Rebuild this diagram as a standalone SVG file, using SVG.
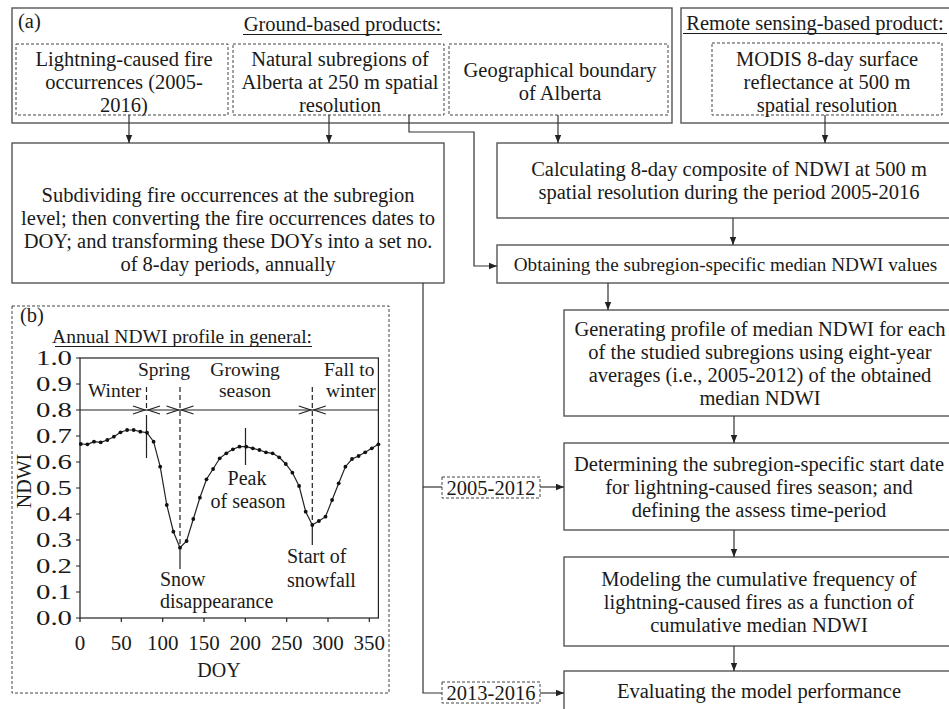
<svg xmlns="http://www.w3.org/2000/svg" width="949" height="709" viewBox="0 0 949 709">
<defs>
<style>
.t{font-family:"Liberation Serif","Times New Roman",serif;font-size:20.5px;fill:#1a1a1a;text-anchor:middle}
.s{text-anchor:start}
.e{text-anchor:end}
.p{font-size:19.5px}
.box{fill:#fff;stroke:#555;stroke-width:1.4}
.dbox{fill:none;stroke:#444;stroke-width:1;stroke-dasharray:3 2}
.conn{fill:none;stroke:#333;stroke-width:1.2}
.ul{stroke:#1a1a1a;stroke-width:1}
.ax{fill:none;stroke:#222;stroke-width:1.2}
.dl{fill:none;stroke:#222;stroke-width:1.2;stroke-dasharray:5 3}
.pt{fill:#111}
</style>
<marker id="ah" viewBox="0 0 8 8" refX="8" refY="4" markerWidth="8" markerHeight="8" markerUnits="userSpaceOnUse" orient="auto">
<path d="M0,0.8 L8,4 L0,7.2 Z" fill="#222"/>
</marker>
</defs>
<rect width="949" height="709" fill="#fff"/>

<g id="groundProducts">
<rect class="box" x="12" y="8" width="660" height="115"/>
<text class="t s" x="18" y="28">(a)</text>
<text class="t" x="342.5" y="31">Ground-based products:</text>
<line class="ul" x1="243" y1="34.5" x2="442" y2="34.5"/>
</g>
<g id="lightning">
<rect class="dbox" x="16" y="44" width="212" height="71"/>
<text class="t" x="124" y="66">Lightning-caused fire</text>
<text class="t" x="124" y="89">occurrences (2005-</text>
<text class="t" x="124" y="112">2016)</text>
</g>
<g id="subregions">
<rect class="dbox" x="233" y="44" width="211" height="71"/>
<text class="t" x="340" y="66">Natural subregions of</text>
<text class="t" x="340" y="89">Alberta at 250 m spatial</text>
<text class="t" x="340" y="112">resolution</text>
</g>
<g id="boundary">
<rect class="dbox" x="449" y="44" width="219" height="71"/>
<text class="t" x="560" y="77">Geographical boundary</text>
<text class="t" x="560" y="100">of Alberta</text>
</g>
<g id="remoteProduct">
<rect class="box" x="681" y="8" width="272" height="115"/>
<text class="t" x="815" y="30">Remote sensing-based product:</text>
<line class="ul" x1="683" y1="33.5" x2="947" y2="33.5"/>
</g>
<g id="modis">
<rect class="dbox" x="712" y="43" width="230" height="72"/>
<text class="t" x="827" y="66">MODIS 8-day surface</text>
<text class="t" x="827" y="89">reflectance at 500 m</text>
<text class="t" x="827" y="112">spatial resolution</text>
</g>

<g id="subdividing">
<rect class="box" x="12" y="143" width="432" height="140"/>
<text class="t" x="228" y="202">Subdividing fire occurrences at the subregion</text>
<text class="t" x="228" y="225">level; then converting the fire occurrences dates to</text>
<text class="t" x="228" y="248">DOY; and transforming these DOYs into a set no.</text>
<text class="t" x="228" y="271">of 8-day periods, annually</text>
</g>
<g id="calculating">
<rect class="box" x="497" y="143" width="460" height="75"/>
<text class="t" x="729" y="176">Calculating 8-day composite of NDWI at 500 m</text>
<text class="t" x="729" y="199">spatial resolution during the period 2005-2016</text>
</g>
<g id="obtaining">
<rect class="box" x="497" y="245" width="460" height="38"/>
<text class="t" x="725.5" y="271" style="font-size:19.2px">Obtaining the subregion-specific median NDWI values</text>
</g>
<g id="generating">
<rect class="box" x="564" y="310" width="392" height="106"/>
<text class="t" x="760" y="336">Generating profile of median NDWI for each</text>
<text class="t" x="760" y="359">of the studied subregions using eight-year</text>
<text class="t" x="760" y="382">averages (i.e., 2005-2012) of the obtained</text>
<text class="t" x="760" y="405">median NDWI</text>
</g>
<g id="determining">
<rect class="box" x="564" y="443" width="392" height="87"/>
<text class="t" x="759" y="471">Determining the subregion-specific start date</text>
<text class="t" x="759" y="494">for lightning-caused fires season; and</text>
<text class="t" x="759" y="517">defining the assess time-period</text>
</g>
<g id="modeling">
<rect class="box" x="564" y="557" width="392" height="89"/>
<text class="t" x="759" y="586">Modeling the cumulative frequency of</text>
<text class="t" x="759" y="609">lightning-caused fires as a function of</text>
<text class="t" x="759" y="632">cumulative median NDWI</text>
</g>
<g id="evaluating">
<rect class="box" x="564" y="671" width="392" height="45"/>
<text class="t" x="759" y="698">Evaluating the model performance</text>
</g>
<g id="period1">
<rect class="dbox" x="442" y="477" width="98" height="21"/>
<text class="t" x="491" y="495">2005-2012</text>
</g>
<g id="period2">
<rect class="dbox" x="442" y="682" width="98" height="21"/>
<text class="t" x="491" y="700">2013-2016</text>
</g>

<g id="connectors">
<line class="conn" x1="129" y1="115" x2="129" y2="143" marker-end="url(#ah)"/>
<line class="conn" x1="329" y1="115" x2="329" y2="143" marker-end="url(#ah)"/>
<path class="conn" d="M409,115 V132 H474 V266 H497" marker-end="url(#ah)"/>
<line class="conn" x1="558" y1="115" x2="558" y2="143" marker-end="url(#ah)"/>
<line class="conn" x1="825" y1="115" x2="825" y2="143" marker-end="url(#ah)"/>
<line class="conn" x1="733" y1="218" x2="733" y2="245" marker-end="url(#ah)"/>
<line class="conn" x1="608" y1="283" x2="608" y2="310" marker-end="url(#ah)"/>
<line class="conn" x1="734" y1="416" x2="734" y2="443" marker-end="url(#ah)"/>
<line class="conn" x1="734" y1="530" x2="734" y2="557" marker-end="url(#ah)"/>
<line class="conn" x1="734" y1="646" x2="734" y2="671" marker-end="url(#ah)"/>
<path class="conn" d="M423,283 V693 H442"/>
<line class="conn" x1="423" y1="487" x2="442" y2="487"/>
<line class="conn" x1="540" y1="487" x2="564" y2="487" marker-end="url(#ah)"/>
<line class="conn" x1="540" y1="693" x2="564" y2="693" marker-end="url(#ah)"/>
</g>

<g id="panelB">
<rect class="dbox" x="12" y="306" width="377" height="387"/>
<text class="t s" x="20" y="322">(b)</text>
<text class="t e p" x="312" y="343">Annual NDWI profile in general:</text>
<line class="ul" x1="55" y1="346.5" x2="312" y2="346.5"/>
<rect class="ax" x="80" y="358" width="298.4" height="260"/>
<path class="ax" d="M76,618H80M76,592H80M76,566H80M76,540H80M76,514H80M76,488H80M76,462H80M76,436H80M76,410H80M76,384H80M76,358H80"/>
<path class="ax" d="M80,618V622M121.3,618V622M162.7,618V622M204,618V622M245.3,618V622M286.7,618V622M328,618V622M369.3,618V622"/>
<g class="t e" style="font-size:21px">
<text x="72" y="625" textLength="36" lengthAdjust="spacingAndGlyphs">0.0</text><text x="72" y="599" textLength="36" lengthAdjust="spacingAndGlyphs">0.1</text><text x="72" y="573" textLength="36" lengthAdjust="spacingAndGlyphs">0.2</text><text x="72" y="547" textLength="36" lengthAdjust="spacingAndGlyphs">0.3</text><text x="72" y="521" textLength="36" lengthAdjust="spacingAndGlyphs">0.4</text><text x="72" y="495" textLength="36" lengthAdjust="spacingAndGlyphs">0.5</text><text x="72" y="469" textLength="36" lengthAdjust="spacingAndGlyphs">0.6</text><text x="72" y="443" textLength="36" lengthAdjust="spacingAndGlyphs">0.7</text><text x="72" y="417" textLength="36" lengthAdjust="spacingAndGlyphs">0.8</text><text x="72" y="391" textLength="36" lengthAdjust="spacingAndGlyphs">0.9</text><text x="72" y="365" textLength="36" lengthAdjust="spacingAndGlyphs">1.0</text>
</g>
<g class="t" style="font-size:21px">
<text x="80" y="650">0</text><text x="121.3" y="650">50</text><text x="162.7" y="650">100</text><text x="204" y="650">150</text><text x="245.3" y="650">200</text><text x="286.7" y="650">250</text><text x="328" y="650">300</text><text x="369.3" y="650">350</text>
</g>
<text class="t" x="219" y="677" style="font-size:20px">DOY</text>
<text class="t" x="0" y="0" style="font-size:20px" transform="translate(31,481) rotate(-90)">NDWI</text>

<line class="ax" x1="80" y1="410" x2="378.4" y2="410"/>
<path class="ax" d="M133,406L145,410L133,414M160,406L148,410L160,414M166.5,406L178.5,410L166.5,414M193.5,406L181.5,410L193.5,414M298.8,406L310.8,410L298.8,414M325.8,406L313.8,410L325.8,414"/>
<line class="dl" x1="146.5" y1="387" x2="146.5" y2="410"/>
<line class="dl" x1="180" y1="387" x2="180" y2="547"/>
<line class="dl" x1="312.3" y1="387" x2="312.3" y2="524"/>
<path class="ax" d="M146.5,415V458M180,547V569M312.3,524V545M245.5,428V465"/>

<g class="t p">
<text class="s" x="88" y="397">Winter</text>
<text class="s" x="138" y="376">Spring</text>
<text x="245" y="376">Growing</text>
<text x="245" y="397">season</text>
<text class="s" x="324" y="376">Fall to</text>
<text class="s" x="326" y="397">winter</text>
</g>
<g class="t" style="font-size:20px">
<text x="247" y="485">Peak</text>
<text x="248" y="508">of season</text>
<text class="s" x="160" y="586">Snow</text>
<text class="s" x="160" y="608">disappearance</text>
<text class="s" x="287" y="563">Start of</text>
<text class="s" x="287" y="587">snowfall</text>
</g>

<polyline class="ax" stroke-width="1.1" points="80.8,444 87.4,444.3 94,441.7 100.7,442.3 107.3,440 113.9,436.7 120.5,432.3 127.1,430 133.7,430 140.3,431.7 147,432.7 153.6,441.7 160.2,466.7 166.8,505 173.4,531.7 180,547.7 186.6,541 193.3,519 199.9,497.7 206.5,479.3 213.1,469 219.7,458.3 226.3,453.3 232.9,449.3 239.5,446.7 246.2,446.7 252.8,448.3 259.4,450 266,452.3 272.6,453.3 279.2,457.3 285.8,464 292.4,472.7 299.1,486 305.7,511.7 312.3,525 318.9,521 325.5,516.7 332.1,500 338.7,483.3 345.4,466.7 352,459 358.6,456 365.2,452.3 371.8,448.3 378.4,444.3"/>
<g class="pt">
<circle cx="80.8" cy="444" r="1.9"/><circle cx="87.4" cy="444.3" r="1.9"/><circle cx="94" cy="441.7" r="1.9"/><circle cx="100.7" cy="442.3" r="1.9"/><circle cx="107.3" cy="440" r="1.9"/><circle cx="113.9" cy="436.7" r="1.9"/><circle cx="120.5" cy="432.3" r="1.9"/><circle cx="127.1" cy="430" r="1.9"/><circle cx="133.7" cy="430" r="1.9"/><circle cx="140.3" cy="431.7" r="1.9"/><circle cx="147" cy="432.7" r="1.9"/><circle cx="153.6" cy="441.7" r="1.9"/><circle cx="160.2" cy="466.7" r="1.9"/><circle cx="166.8" cy="505" r="1.9"/><circle cx="173.4" cy="531.7" r="1.9"/><circle cx="180" cy="547.7" r="1.9"/><circle cx="186.6" cy="541" r="1.9"/><circle cx="193.3" cy="519" r="1.9"/><circle cx="199.9" cy="497.7" r="1.9"/><circle cx="206.5" cy="479.3" r="1.9"/><circle cx="213.1" cy="469" r="1.9"/><circle cx="219.7" cy="458.3" r="1.9"/><circle cx="226.3" cy="453.3" r="1.9"/><circle cx="232.9" cy="449.3" r="1.9"/><circle cx="239.5" cy="446.7" r="1.9"/><circle cx="246.2" cy="446.7" r="1.9"/><circle cx="252.8" cy="448.3" r="1.9"/><circle cx="259.4" cy="450" r="1.9"/><circle cx="266" cy="452.3" r="1.9"/><circle cx="272.6" cy="453.3" r="1.9"/><circle cx="279.2" cy="457.3" r="1.9"/><circle cx="285.8" cy="464" r="1.9"/><circle cx="292.4" cy="472.7" r="1.9"/><circle cx="299.1" cy="486" r="1.9"/><circle cx="305.7" cy="511.7" r="1.9"/><circle cx="312.3" cy="525" r="1.9"/><circle cx="318.9" cy="521" r="1.9"/><circle cx="325.5" cy="516.7" r="1.9"/><circle cx="332.1" cy="500" r="1.9"/><circle cx="338.7" cy="483.3" r="1.9"/><circle cx="345.4" cy="466.7" r="1.9"/><circle cx="352" cy="459" r="1.9"/><circle cx="358.6" cy="456" r="1.9"/><circle cx="365.2" cy="452.3" r="1.9"/><circle cx="371.8" cy="448.3" r="1.9"/><circle cx="378.4" cy="444.3" r="1.9"/>
</g>
</g>
</svg>
